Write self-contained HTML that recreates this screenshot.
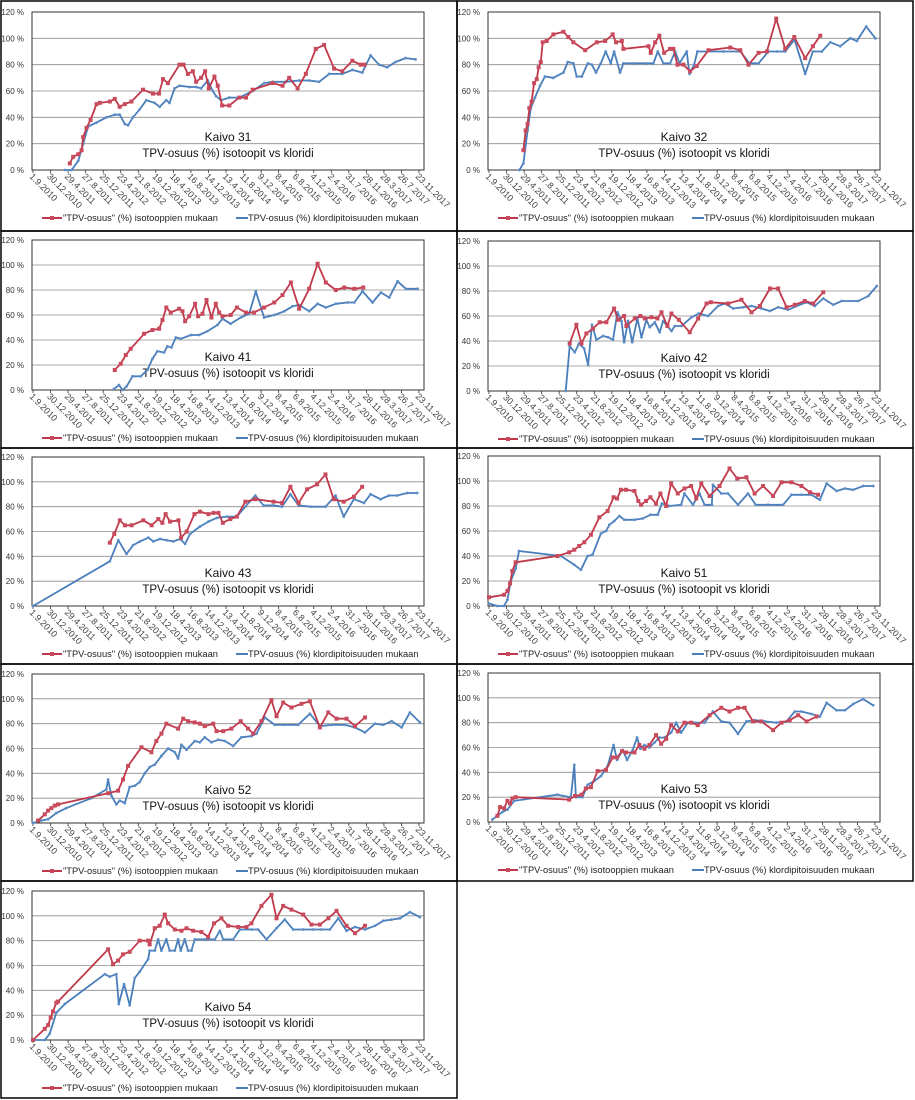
<!DOCTYPE html>
<html><head><meta charset="utf-8"><style>
html,body{margin:0;padding:0;background:#fff;}
svg{display:block;font-family:"Liberation Sans",sans-serif;}
</style></head><body>
<svg id="c" width="915" height="1100" viewBox="0 0 915 1100"></svg>
<script>
const tickLabels=["1.9.2010","30.12.2010","29.4.2011","27.8.2011","25.12.2011","23.4.2012","21.8.2012","19.12.2012","18.4.2013","16.8.2013","14.12.2013","13.4.2014","11.8.2014","9.12.2014","8.4.2015","6.8.2015","4.12.2015","2.4.2016","31.7.2016","28.11.2016","28.3.2017","26.7.2017","23.11.2017"];
const yTicks=[0,20,40,60,80,100,120];
const seriesNames=['"TPV-osuus" (%) isotooppien mukaan','TPV-osuus (%) klordipitoisuuden mukaan'];
// x in tick-interval units (120 days per tick from 1.9.2010), y in %
const k31RedT=[2.1,2.29,2.58,2.77,2.86,3.05,3.28,3.62,3.81,4.38,4.66,4.94,5.23,5.61,6.27,6.84,7.18,7.41,7.69,8.35,8.58,8.83,9.11,9.3,9.58,9.81,10.02,10.34,10.53,10.78,11.19,11.76,12.14,12.52,13.66,14.22,14.6,15.08,15.55,16.12,16.59,17.16,17.63,18.2,18.67,18.9];
const k31RedV=[5,10,12,15,25,32,38,50,51,52,54,48,50,52,61,58,58,69,66,80,80,73,75,67,70,75,62,71,64,49,49,55,55,61,66,64,70,62,73,92,95,77,75,83,80,80];
const k31BlueT=[1.82,2.2,2.58,2.86,3.14,3.62,4.19,4.66,4.94,5.23,5.42,5.7,6.08,6.46,6.93,7.22,7.59,7.78,8.07,8.35,8.92,9.3,9.58,9.96,10.25,10.44,10.72,11.19,11.76,12.52,13.18,13.66,14.41,15.17,15.74,16.31,16.88,17.63,18.2,18.77,19.24,19.72,20.19,20.66,21.23,21.8];
const k31BlueV=[0,0,7,20,33,36,40,42,42,35,34,40,46,53,51,48,53,51,62,64,63,63,62,68,60,56,53,55,55,60,66,67,67,68,68,67,73,73,76,74,87,80,78,82,85,84];
const k32RedT=[1.96,2.09,2.2,2.3,2.43,2.57,2.72,2.83,2.95,3.06,3.29,3.67,4.24,4.52,4.81,5.48,6.14,6.62,7.05,7.24,7.57,7.66,9.09,9.22,9.47,9.71,9.98,10.32,10.51,10.74,11.08,11.46,11.84,12.51,13.75,14.32,14.79,15.36,15.84,16.37,16.88,17.4,18.02,18.46,18.88];
const k32RedV=[15,30,35,47,52,66,69,78,82,97,98,103,105,101,97,91,97,98,103,97,98,92,94,89,97,102,89,92,92,80,80,75,79,91,93,91,80,89,90,115,92,101,85,94,102];
const k32BlueT=[1.73,1.96,2.2,2.38,2.62,2.91,3.19,3.67,4.24,4.49,4.81,5,5.29,5.63,5.86,6.1,6.37,6.65,6.94,7.13,7.47,7.66,8.23,9,9.37,9.62,9.94,10.32,10.61,10.86,11.27,11.43,11.69,11.88,13.37,14.32,14.85,15.36,15.93,16.41,16.88,17.41,18.02,18.46,18.97,19.45,20.02,20.59,20.97,21.5,22.02];
const k32BlueV=[0,5,30,47,55,64,71,70,74,82,81,71,71,81,80,74,81,90,81,90,74,81,81,81,81,90,81,81,90,81,90,73,80,90,90,90,81,81,90,90,90,99,73,90,90,97,94,100,98,109,100];
const k41RedT=[4.66,5,5.29,5.57,6.33,6.81,7.19,7.38,7.6,7.85,8.33,8.52,8.67,8.9,9.24,9.41,9.66,9.89,10.17,10.42,10.61,10.8,11.27,11.62,12.13,12.6,13.17,13.75,14.22,14.7,15.17,15.74,16.22,16.69,17.26,17.74,18.31,18.82];
const k41RedV=[16,21,28,33,45,48,49,56,66,62,65,63,55,59,69,59,61,72,58,69,62,59,60,66,62,62,66,70,76,86,65,81,101,86,80,82,81,82];
const k41BlueT=[4.62,4.9,5.1,5.34,5.67,6.14,6.52,6.81,7.09,7.47,7.66,7.89,8.14,8.42,9,9.47,9.94,10.51,10.8,11.27,11.84,12.32,12.7,13.17,13.75,14.32,14.79,15.17,15.74,16.22,16.69,17.26,17.93,18.31,18.78,19.35,19.83,20.3,20.78,21.25,21.92];
const k41BlueV=[1,4,0,3,11,11,16,25,31,30,35,34,42,41,44,44,47,52,57,53,58,61,79,58,60,63,67,68,63,69,66,69,70,70,79,70,78,74,87,81,81];
const k42RedT=[4.6,4.98,5.27,5.55,5.93,6.31,6.69,7.13,7.36,7.7,7.83,8.31,8.63,8.88,9.26,9.6,9.83,10.17,10.4,10.82,11.44,11.92,12.4,12.64,13.63,14.39,14.96,15.44,16.01,16.48,16.96,17.43,18,18.48,19.05];
const k42RedV=[38,53,38,46,50,55,55,66,57,60,52,58,60,58,59,58,63,52,62,57,47,58,70,71,70,73,63,68,82,82,67,69,72,70,79];
const k42BlueT=[4.37,4.6,4.89,5.13,5.42,5.65,5.87,6.12,6.5,6.79,7.07,7.32,7.55,7.7,7.93,8.16,8.46,8.69,8.97,9.16,9.45,9.73,9.92,10.4,10.59,10.97,11.54,11.96,12.49,13.06,13.44,13.92,14.49,14.96,15.53,16.01,16.48,17.05,17.53,18.1,18.57,19.05,19.62,20.1,21.05,21.62,22.1];
const k42BlueV=[0,36,31,38,34,21,53,41,44,43,41,63,56,39,56,39,58,43,57,51,55,47,56,48,52,52,59,62,60,68,70,66,67,68,66,64,67,65,68,71,68,74,69,72,72,76,84];
const k43RedT=[4.38,4.63,4.95,5.24,5.62,6.29,6.76,7.14,7.37,7.56,7.81,8.29,8.44,8.76,9.2,9.52,10,10.29,10.57,10.82,11.24,11.62,12.1,12.67,13.71,14.19,14.67,15.14,15.62,16.19,16.67,17.14,17.71,18.29,18.76];
const k43RedV=[51,58,69,65,65,69,65,70,67,74,68,69,55,60,74,76,74,75,75,67,70,72,84,86,84,83,96,83,94,98,106,86,84,88,96];
const k43BlueT=[0,4.38,4.86,5.33,5.71,6.1,6.57,6.86,7.24,7.62,8,8.38,8.67,8.95,9.52,10,10.48,11.05,11.62,12.1,12.67,13.14,13.71,14.19,14.67,15.14,15.81,16.67,17.24,17.71,18.29,18.86,19.24,19.81,20.29,20.76,21.33,21.9];
const k43BlueV=[0,36,53,42,49,52,55,52,54,53,52,54,50,58,64,68,71,72,72,80,89,81,81,80,90,81,80,80,89,72,86,83,90,86,89,89,91,91];
const k51RedT=[0,0.86,1.05,1.2,1.33,1.52,3.9,4.57,4.86,5.14,5.43,5.81,6.29,6.76,7.1,7.3,7.52,7.81,8.29,8.51,8.67,8.95,9.2,9.52,9.77,10.1,10.38,10.76,11.14,11.52,11.81,12.1,12.57,13.14,13.71,14.15,14.67,15.14,15.62,16.19,16.67,17.24,17.81,18.29,18.76];
const k51RedV=[7,9,12,18,28,35,40,43,45,48,51,57,71,76,87,86,93,93,92,84,81,84,87,82,90,80,98,90,94,96,86,98,88,96,110,102,103,90,96,88,99,99,96,91,89];
const k51BlueT=[0,0.48,0.86,1.05,1.24,1.52,1.71,4.1,4.86,5.24,5.62,5.9,6.38,6.67,6.86,7.14,7.43,7.71,8.29,8.76,9.2,9.62,9.85,10.29,10.95,11.14,11.62,12,12.29,12.7,12.76,13.24,13.62,14.19,14.76,15.2,15.9,16.76,17.24,17.81,18.38,18.86,19.24,19.81,20.29,20.76,21.33,21.9];
const k51BlueV=[2,0,0,5,20,30,44,40,33,29,40,41,58,60,65,68,72,69,69,70,73,73,82,80,81,90,81,90,81,81,97,90,90,81,90,81,81,81,89,89,89,85,98,92,94,93,96,96];
const k52RedT=[0.29,0.67,0.86,1.05,1.24,1.43,4.28,4.85,5.13,5.42,6.18,6.75,7.03,7.32,7.6,8.27,8.56,8.84,9.22,9.51,9.79,10.27,10.46,10.84,11.31,11.84,12.26,12.55,13.02,13.59,13.88,14.26,14.73,15.3,15.78,16.35,16.83,17.3,17.87,18.35,18.92];
const k52RedV=[2,7,10,12,14,15,24,26,35,46,61,57,66,72,80,76,84,82,81,80,78,80,74,74,76,82,76,72,82,99,86,97,93,96,98,77,89,84,84,78,85];
const k52BlueT=[0,0.48,0.86,1.33,1.9,3.33,4.18,4.28,4.47,4.75,4.94,5.23,5.51,5.8,6.08,6.37,6.65,6.94,7.32,7.7,8.08,8.27,8.46,8.75,9.22,9.51,9.79,10.17,10.55,10.93,11.41,11.88,12.45,12.74,13.21,13.78,14.35,15.11,15.78,16.35,17.02,17.78,18.35,18.92,19.49,19.96,20.44,21.01,21.48,22.05];
const k52BlueV=[0,2,3,8,12,20,27,35,22,15,18,16,29,30,33,40,45,47,54,60,57,52,63,59,66,65,69,65,67,66,62,69,70,72,85,79,79,79,88,78,79,79,77,73,80,79,82,77,89,81];
const k53RedT=[0.48,0.63,0.86,1.05,1.2,1.33,1.52,4.57,4.9,5.28,5.52,5.81,6.19,6.67,7.05,7.3,7.58,7.81,8.29,8.57,8.86,9.14,9.52,9.81,10.1,10.38,10.76,11.14,11.52,11.9,12.57,13.24,13.71,14.19,14.57,15.05,15.52,16.19,16.67,17.14,17.62,18.1,18.67];
const k53RedV=[5,12,11,17,15,19,20,18,21,22,27,28,41,42,52,52,57,56,56,62,59,62,70,63,67,78,73,80,80,78,86,92,89,92,92,81,81,74,80,82,86,81,85];
const k53BlueT=[0.19,0.48,0.76,1.05,1.43,3.9,4.67,4.86,4.95,5.33,5.62,6,6.38,6.76,7.1,7.3,7.62,7.87,8.19,8.44,8.63,8.86,9.14,9.43,9.71,10,10.38,10.67,10.95,11.33,11.71,12.29,12.76,13.24,13.71,14.19,14.67,15.14,15.71,16.38,16.95,17.43,17.81,18.38,18.86,19.24,19.81,20.29,20.76,21.33,21.9];
const k53BlueV=[2,5,8,10,17,22,20,46,20,20,30,33,37,45,62,50,58,50,58,68,59,62,60,64,68,68,72,80,72,80,80,80,89,81,80,71,81,82,81,80,81,89,89,87,85,96,90,90,95,99,94];
const k54RedT=[0,0.67,0.86,1.01,1.14,1.33,1.43,4.28,4.56,4.85,5.13,5.51,6.08,6.56,6.65,6.94,7.22,7.51,7.7,8.08,8.46,8.75,9.13,9.6,9.98,10.32,10.74,11.12,11.69,12.17,12.45,13.02,13.59,13.88,14.26,14.73,15.4,15.87,16.35,16.83,17.3,17.87,18.35,18.92];
const k54RedV=[0,9,12,18,23,30,31,73,61,64,69,71,80,80,77,90,92,101,94,89,88,90,88,87,83,94,98,92,91,91,94,108,117,98,108,105,101,93,93,98,104,92,86,92];
const k54BlueT=[0,0.67,0.95,1.33,1.81,4.09,4.37,4.75,4.89,5.19,5.51,5.8,6.08,6.56,6.65,6.94,7.13,7.32,7.6,7.79,8.08,8.27,8.42,8.65,8.84,9.03,9.22,9.79,10.36,10.65,10.84,11.41,11.79,12.45,12.83,13.31,13.88,14.35,14.83,15.4,15.97,16.44,16.92,17.4,17.87,18.35,18.92,19.49,19.96,20.44,20.91,21.48,22.05];
const k54BlueV=[0,0,5,22,29,53,51,53,29,45,28,50,55,65,72,72,81,72,81,72,72,81,72,81,72,72,81,81,81,88,81,81,89,89,89,81,90,97,89,89,89,89,89,98,88,91,89,92,96,97,98,103,99];

const NS="http://www.w3.org/2000/svg";
const svg=document.getElementById('c');
function mk(tag,attrs,parent){const e=document.createElementNS(NS,tag);for(const k in attrs)e.setAttribute(k,attrs[k]);(parent||svg).appendChild(e);return e;}

const panels=[
 {name:"Kaivo 31",col:0,top:12,bot:170,red:[k31RedT,k31RedV],blue:[k31BlueT,k31BlueV]},
 {name:"Kaivo 32",col:1,top:12,bot:170,red:[k32RedT,k32RedV],blue:[k32BlueT,k32BlueV]},
 {name:"Kaivo 41",col:0,top:240,bot:390,red:[k41RedT,k41RedV],blue:[k41BlueT,k41BlueV]},
 {name:"Kaivo 42",col:1,top:241,bot:391,red:[k42RedT,k42RedV],blue:[k42BlueT,k42BlueV]},
 {name:"Kaivo 43",col:0,top:457,bot:606,red:[k43RedT,k43RedV],blue:[k43BlueT,k43BlueV]},
 {name:"Kaivo 51",col:1,top:456,bot:606,red:[k51RedT,k51RedV],blue:[k51BlueT,k51BlueV]},
 {name:"Kaivo 52",col:0,top:674,bot:823,red:[k52RedT,k52RedV],blue:[k52BlueT,k52BlueV]},
 {name:"Kaivo 53",col:1,top:673,bot:822,red:[k53RedT,k53RedV],blue:[k53BlueT,k53BlueV]},
 {name:"Kaivo 54",col:0,top:891,bot:1040,red:[k54RedT,k54RedV],blue:[k54BlueT,k54BlueV]}
];
const RED="#c0394b", BLUE="#4a7ebb";

const rowsY=[1,231,448,664,881,1098];
for(let r=0;r<5;r++){
  for(let c=0;c<2;c++){
    if(r===4&&c===1)continue;
    const b=mk('rect',{x:c?457:1,y:rowsY[r],width:456,height:rowsY[r+1]-rowsY[r],fill:'none',stroke:'#000','stroke-width':1.5});
    
    
  }
}

panels.forEach(p=>{
  const off=p.col?456:0;
  const L=32+off, R=424+off, T=p.top, B=p.bot;
  const t0=L+1, t22=R-5;
  const xs=t=>t0+t*(t22-t0)/22;
  const ys=v=>B-(v/120)*(B-T);
  const g=mk('g',{});
  
  
  yTicks.forEach(v=>{
    if(v>0&&v<120){const l=mk('line',{x1:L,x2:R,y1:ys(v),y2:ys(v),stroke:'#8c8c8c','stroke-width':0.8},g);
      
      }
    const tx=mk('text',{x:L-8,y:ys(v)+3,'text-anchor':'end','font-size':8,fill:'#333'},g);
    tx.textContent=v+' %';
    
    
  });
  const fr=mk('rect',{x:L,y:T,width:R-L,height:B-T,fill:'none',stroke:'#333','stroke-width':1},g);
  
  
  tickLabels.forEach((lab,i)=>{
    const x=xs(i);
    const tk=mk('line',{x1:x,x2:x,y1:B,y2:B+3,stroke:'#333','stroke-width':0.8},g);
    
    
    const tx=mk('text',{x:0,y:0,'font-size':9,fill:'#444',transform:`translate(${x-4},${B+7}) rotate(45)`},g);
    tx.textContent=lab;
    
    
  });
  const cx=(L+R)/2;
  const t1=mk('text',{x:cx,y:B-29,'text-anchor':'middle','font-size':12,fill:'#111'},g);
  t1.textContent=p.name;
  
  
  const t2=mk('text',{x:cx,y:B-13,'text-anchor':'middle','font-size':11.5,fill:'#111'},g);
  t2.textContent='TPV-osuus (%) isotoopit vs kloridi';
  
  
  [[p.blue,BLUE,'chloride-series'],[p.red,RED,'isotope-series']].forEach(([s,col,nm])=>{
    const pts=s[0].map((t,i)=>xs(t).toFixed(1)+','+ys(s[1][i]).toFixed(1)).join(' ');
    const pl=mk('polyline',{points:pts,fill:'none',stroke:col,'stroke-width':1.8,'stroke-linejoin':'round'},g);
    
    
    s[0].forEach((t,i)=>{
      let m;
      if(col===RED){m=mk('rect',{x:xs(t)-2,y:ys(s[1][i])-2,width:4,height:4,fill:'#c84a5c'},g);}
      else{m=mk('circle',{cx:xs(t),cy:ys(s[1][i]),r:1.4,fill:'#5b8cc6'},g);}
      
      
    });
  });
  const ly=B+51;
  const lx=off+42;
  const lg=mk('g',{},g);
  
  
  mk('line',{x1:lx,x2:lx+20,y1:ly-3,y2:ly-3,stroke:RED,'stroke-width':2},lg);
  mk('rect',{x:lx+8,y:ly-5,width:4,height:4,fill:'#c84a5c'},lg);
  const lt1=mk('text',{x:lx+21,y:ly,'font-size':9.3,fill:'#222'},lg);
  lt1.textContent=seriesNames[0];
  
  
  mk('line',{x1:lx+194,x2:lx+206,y1:ly-3,y2:ly-3,stroke:BLUE,'stroke-width':2},lg);
  const lt2=mk('text',{x:lx+206,y:ly,'font-size':9.3,fill:'#222'},lg);
  lt2.textContent=seriesNames[1];
  
  
});
</script>
</body></html>
